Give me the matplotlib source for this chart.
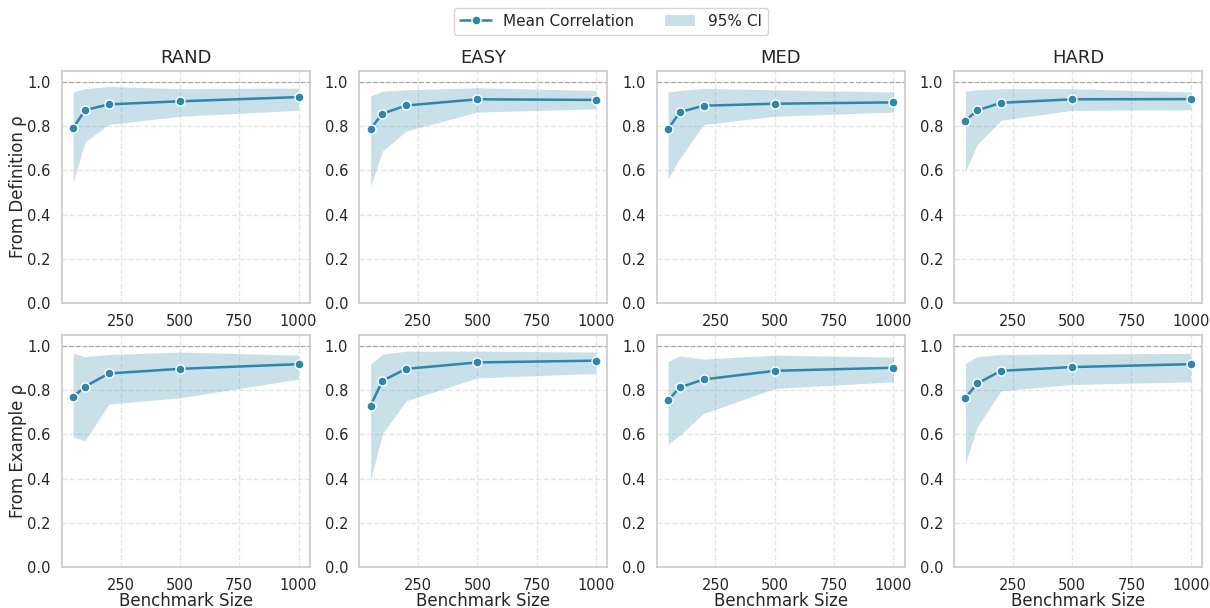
import matplotlib
matplotlib.use("Agg")
import matplotlib.pyplot as plt
import seaborn as sns
import numpy as np

sns.set_theme(style="whitegrid")
plt.rcParams['font.family'] = ['DejaVu Sans']

sizes = [50, 100, 200, 500, 1000]
difficulties = ["RAND", "EASY", "MED", "HARD"]
row_labels = ["From Definition ρ", "From Example ρ"]

# Row 1: From Definition
def_mean = {
    "RAND": [0.793, 0.873, 0.899, 0.913, 0.932],
    "EASY": [0.789, 0.857, 0.894, 0.922, 0.919],
    "MED":  [0.787, 0.864, 0.893, 0.902, 0.908],
    "HARD": [0.825, 0.872, 0.906, 0.922, 0.923],
}
def_low = {
    "RAND": [0.548, 0.729, 0.808, 0.845, 0.872],
    "EASY": [0.528, 0.688, 0.778, 0.864, 0.879],
    "MED":  [0.563, 0.655, 0.808, 0.845, 0.864],
    "HARD": [0.597, 0.718, 0.827, 0.872, 0.875],
}
def_high = {
    "RAND": [0.955, 0.970, 0.980, 0.970, 0.973],
    "EASY": [0.937, 0.959, 0.965, 0.974, 0.962],
    "MED":  [0.955, 0.962, 0.971, 0.965, 0.955],
    "HARD": [0.959, 0.965, 0.970, 0.970, 0.955],
}
# Row 2: From Example
ex_mean = {
    "RAND": [0.770, 0.817, 0.876, 0.897, 0.918],
    "EASY": [0.731, 0.843, 0.897, 0.926, 0.934],
    "MED":  [0.755, 0.813, 0.849, 0.888, 0.902],
    "HARD": [0.766, 0.831, 0.888, 0.905, 0.918],
}
ex_low = {
    "RAND": [0.589, 0.571, 0.737, 0.766, 0.850],
    "EASY": [0.393, 0.604, 0.752, 0.856, 0.876],
    "MED":  [0.556, 0.597, 0.695, 0.808, 0.838],
    "HARD": [0.471, 0.634, 0.798, 0.826, 0.838],
}
ex_high = {
    "RAND": [0.967, 0.952, 0.962, 0.973, 0.959],
    "EASY": [0.918, 0.964, 0.977, 0.977, 0.973],
    "MED":  [0.931, 0.955, 0.941, 0.959, 0.950],
    "HARD": [0.921, 0.952, 0.962, 0.964, 0.967],
}

line_color = "#2E86AB"
fill_color = "#2E86AB"

fig, axes = plt.subplots(2, 4, figsize=(12.1, 6.08), dpi=100)
fig.subplots_adjust(left=0.0512, right=0.9934, top=0.8832, bottom=0.0674,
                    wspace=0.2, hspace=0.138)

rows = [(def_mean, def_low, def_high), (ex_mean, ex_low, ex_high)]
for r, (m, lo, hi) in enumerate(rows):
    for c, d in enumerate(difficulties):
        ax = axes[r, c]
        ax.fill_between(sizes, lo[d], hi[d], color=fill_color, alpha=0.25,
                        linewidth=0, label="95% CI")
        ax.plot(sizes, m[d], color=line_color, marker="o", markersize=6.5,
                markeredgecolor="white", markeredgewidth=1.0, linewidth=1.8,
                label="Mean Correlation")
        ax.axhline(1.0, color="gray", linestyle="--", linewidth=0.9, alpha=0.6)
        ax.set_ylim(0, 1.05)
        ax.set_yticks([0.0, 0.2, 0.4, 0.6, 0.8, 1.0])
        ax.set_xticks([250, 500, 750, 1000])
        ax.grid(True, linestyle="--", alpha=0.5)
        ax.tick_params(labelsize=10.5, pad=2)
        for s in ax.spines.values():
            s.set_color("#cccccc")
        if r == 0:
            ax.set_title(d, fontsize=13)
        else:
            ax.set_xlabel("Benchmark Size", fontsize=12, labelpad=-1)
        if c == 0:
            ax.set_ylabel(row_labels[r], fontsize=12, labelpad=0)

h, l = axes[0, 0].get_legend_handles_labels()
order = [l.index("Mean Correlation"), l.index("95% CI")]
fig.legend([h[i] for i in order], [l[i] for i in order], loc="upper center",
           bbox_to_anchor=(0.505, 1.0), ncol=2, fontsize=11, frameon=True)

fig.savefig("out.png", dpi=100)
